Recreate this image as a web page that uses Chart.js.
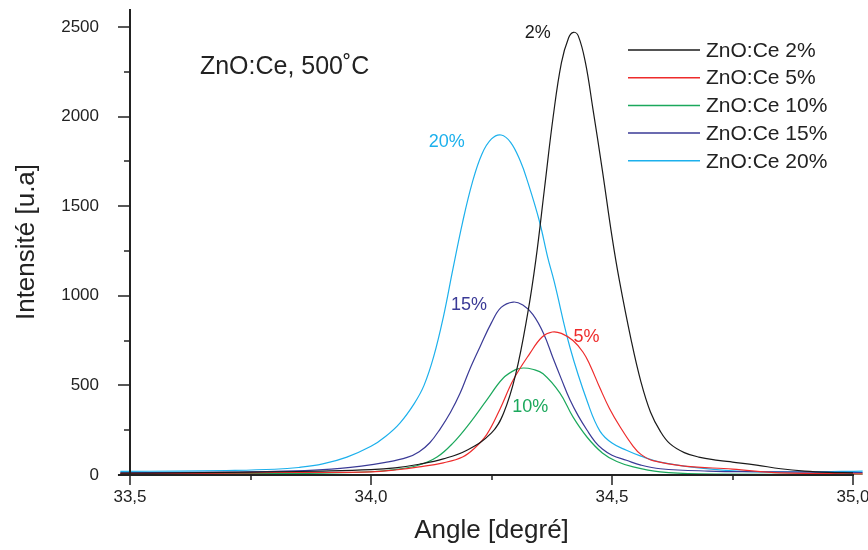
<!DOCTYPE html>
<html lang="fr">
<head>
  <meta charset="UTF-8">
  <title>ZnO:Ce, 500°C</title>
  <script src="https://cdn.jsdelivr.net/npm/chart.js"></script>
  <style>
    html, body { margin: 0; padding: 0; background: #fff; }
    #wrap { width: 868px; height: 550px; }
  </style>
</head>
<body>
  <div id="wrap"><canvas id="xrd"></canvas></div>

  <script>
    // Diffraction peak (002), angle in degrees and intensity in a.u.
    const xTicks = [33.5, 34.0, 34.5, 35.0];
    const yTicks = [0, 500, 1000, 1500, 2000, 2500];
    const seriesLabels = ['ZnO:Ce 2%', 'ZnO:Ce 5%', 'ZnO:Ce 10%', 'ZnO:Ce 15%', 'ZnO:Ce 20%'];
    const seriesColors = ['#1a1a1a', '#ee2b2b', '#1ba85c', '#3a3a96', '#1cb0ec'];

    const x2 = [33.48, 33.6, 33.7, 33.8, 33.9, 34.0, 34.05, 34.1, 34.15, 34.2, 34.25, 34.275, 34.3, 34.325, 34.342, 34.36, 34.378, 34.395, 34.41, 34.42, 34.43, 34.445, 34.46, 34.48, 34.5, 34.515, 34.54, 34.56, 34.58, 34.6, 34.62, 34.65, 34.68, 34.72, 34.75, 34.8, 34.85, 34.9, 34.95, 35.0, 35.02];
    const y2 = [10, 12, 15, 18, 22, 30, 40, 60, 90, 140, 235, 345, 560, 900, 1200, 1600, 2000, 2300, 2440, 2470, 2450, 2300, 2050, 1700, 1330, 1090, 750, 520, 350, 245, 175, 125, 100, 82, 72, 55, 35, 22, 15, 12, 10];

    const x5 = [33.48, 33.6, 33.7, 33.8, 33.9, 34.0, 34.05, 34.1, 34.15, 34.19, 34.215, 34.24, 34.268, 34.295, 34.33, 34.355, 34.376, 34.395, 34.419, 34.44, 34.454, 34.475, 34.495, 34.517, 34.544, 34.56, 34.585, 34.65, 34.75, 34.85, 35.02];
    const y5 = [8, 9, 10, 14, 14, 17, 28, 45, 68, 100, 150, 225, 370, 530, 680, 770, 798, 790, 750, 685, 615, 485, 370, 268, 160, 115, 80, 50, 33, 12, 6];

    const x10 = [33.48, 33.6, 33.7, 33.8, 33.9, 34.0, 34.05, 34.1, 34.137, 34.17, 34.205, 34.24, 34.274, 34.3, 34.316, 34.335, 34.357, 34.392, 34.419, 34.448, 34.48, 34.51, 34.544, 34.6, 34.68, 35.02];
    const y10 = [5, 7, 8, 9, 11, 18, 30, 56, 100, 178, 290, 418, 540, 588, 597, 590, 565, 457, 324, 212, 123, 75, 45, 17, 6, 5];

    const x15 = [33.48, 33.6, 33.7, 33.8, 33.9, 33.98, 34.03, 34.075, 34.1, 34.122, 34.143, 34.165, 34.185, 34.205, 34.226, 34.25, 34.27, 34.295, 34.315, 34.336, 34.358, 34.378, 34.395, 34.413, 34.43, 34.448, 34.465, 34.48, 34.5, 34.53, 34.56, 34.6, 34.7, 34.8, 35.02];
    const y15 = [12, 14, 16, 20, 30, 50, 70, 98, 130, 180, 255, 350, 457, 590, 714, 850, 935, 965, 948, 895, 790, 650, 535, 418, 330, 251, 185, 145, 110, 82, 55, 35, 22, 18, 14];

    const x20 = [33.48, 33.6, 33.7, 33.8, 33.85, 33.9, 33.95, 34.0, 34.03, 34.06, 34.09, 34.11, 34.13, 34.15, 34.17, 34.19, 34.21, 34.23, 34.25, 34.27, 34.29, 34.31, 34.324, 34.349, 34.367, 34.38, 34.413, 34.45, 34.475, 34.5, 34.53, 34.56, 34.6, 34.68, 34.77, 34.9, 35.02];
    const y20 = [20, 22, 25, 32, 42, 62, 100, 160, 215, 290, 400, 500, 660, 880, 1150, 1410, 1630, 1790, 1875, 1897, 1855, 1750, 1645, 1420, 1210, 1080, 710, 400, 245, 178, 138, 105, 72, 40, 20, 18, 22];

    // text placed inside the plot: [text, angle, intensity, colour index or -1]
    const notes = [
      ['ZnO:Ce, 500\u02DAC', 33.645, 2277, -1],
      ['2%', 34.319, 2466, 0],
      ['20%', 34.12, 1858, 4],
      ['15%', 34.166, 949, 3],
      ['5%', 34.42, 770, 1],
      ['10%', 34.293, 379, 2]
    ];

    const allX = [x2, x5, x10, x15, x20];
    const allY = [y2, y5, y10, y15, y20];

    const datasets = seriesLabels.map((label, i) => ({
      label: label,
      data: allX[i].map((x, k) => ({ x: x, y: allY[i][k] })),
      borderColor: seriesColors[i],
      borderWidth: 1.2,
      pointRadius: 0,
      fill: false,
      tension: 0.4,
      clip: false
    }));

    const FONT = '"Liberation Sans", Arial, sans-serif';
    const INK = '#222';

    // axis lines, major/minor ticks, legend and notes
    const decorations = {
      id: 'decorations',
      afterDatasetsDraw(chart) {
        const ctx = chart.ctx;
        const sx = chart.scales.x, sy = chart.scales.y;
        const x0 = sx.getPixelForValue(33.5);
        const y0 = sy.getPixelForValue(0);
        ctx.save();
        ctx.strokeStyle = INK;
        ctx.lineWidth = 2;
        ctx.beginPath();
        ctx.moveTo(x0, sy.getPixelForValue(2600));
        ctx.lineTo(x0, y0);
        ctx.moveTo(sx.getPixelForValue(33.475), y0);
        ctx.lineTo(sx.getPixelForValue(35.0) + 1, y0);
        ctx.stroke();

        ctx.lineWidth = 1.5;
        ctx.beginPath();
        for (let v = 0; v <= 2500; v += 250) {
          const py = Math.round(sy.getPixelForValue(v));
          const len = v % 500 === 0 ? 12 : 6;
          ctx.moveTo(x0 - len, py);
          ctx.lineTo(x0, py);
        }
        for (let v = 33.5; v <= 35.001; v += 0.25) {
          const px = Math.round(sx.getPixelForValue(v));
          const major = Math.abs(v * 2 - Math.round(v * 2)) < 1e-6;
          ctx.moveTo(px, y0);
          ctx.lineTo(px, y0 + (major ? 10 : 5));
        }
        ctx.stroke();

        // legend
        ctx.font = '21px ' + FONT;
        ctx.textBaseline = 'middle';
        ctx.textAlign = 'left';
        seriesLabels.forEach((label, i) => {
          const ly = 50 + i * 27.7;
          ctx.strokeStyle = seriesColors[i];
          ctx.lineWidth = 1.5;
          ctx.beginPath();
          ctx.moveTo(628, ly);
          ctx.lineTo(700, ly);
          ctx.stroke();
          ctx.fillStyle = INK;
          ctx.fillText(label, 706, ly + 1);
        });

        // notes
        notes.forEach(n => {
          ctx.font = (n[3] < 0 ? '25px ' : '18px ') + FONT;
          ctx.fillStyle = n[3] < 0 ? INK : seriesColors[n[3]];
          ctx.fillText(n[0], sx.getPixelForValue(n[1]), sy.getPixelForValue(n[2]));
        });
        ctx.restore();
      }
    };

    new Chart(document.getElementById('xrd'), {
      type: 'line',
      data: { datasets: datasets },
      plugins: [decorations],
      options: {
        responsive: true,
        maintainAspectRatio: false,
        animation: false,
        layout: { padding: { left: 0, right: 15, top: 9, bottom: 0 } },
        plugins: {
          legend: { display: false },
          tooltip: { enabled: false }
        },
        scales: {
          x: {
            type: 'linear',
            min: 33.5,
            max: 35.0,
            afterBuildTicks: s => { s.ticks = xTicks.map(v => ({ value: v })); },
            afterFit: s => { s.height = 75; s.paddingLeft = 0; s.paddingRight = 0; },
            ticks: {
              color: INK,
              font: { family: FONT, size: 17 },
              padding: 2,
              maxRotation: 0,
              autoSkip: false,
              callback: v => v.toFixed(1).replace('.', ',')
            },
            grid: { display: true, drawOnChartArea: false, tickLength: 10, tickColor: 'rgba(0,0,0,0)' },
            border: { display: false },
            title: {
              display: true,
              text: 'Angle [degré]',
              color: INK,
              font: { family: FONT, size: 26 },
              padding: { top: 0, bottom: 4 }
            }
          },
          y: {
            min: 0,
            max: 2600,
            afterBuildTicks: s => { s.ticks = yTicks.map(v => ({ value: v })); },
            afterFit: s => { s.width = 130; s.paddingTop = 0; s.paddingBottom = 0; },
            ticks: {
              color: INK,
              font: { family: FONT, size: 17 },
              padding: 19,
              callback: v => String(v)
            },
            grid: { display: true, drawOnChartArea: false, tickLength: 12, tickColor: 'rgba(0,0,0,0)' },
            border: { display: false },
            title: {
              display: true,
              text: 'Intensité [u.a]',
              color: INK,
              font: { family: FONT, size: 26 },
              padding: { top: 11, bottom: 0 }
            }
          }
        }
      }
    });
  </script>
</body>
</html>
